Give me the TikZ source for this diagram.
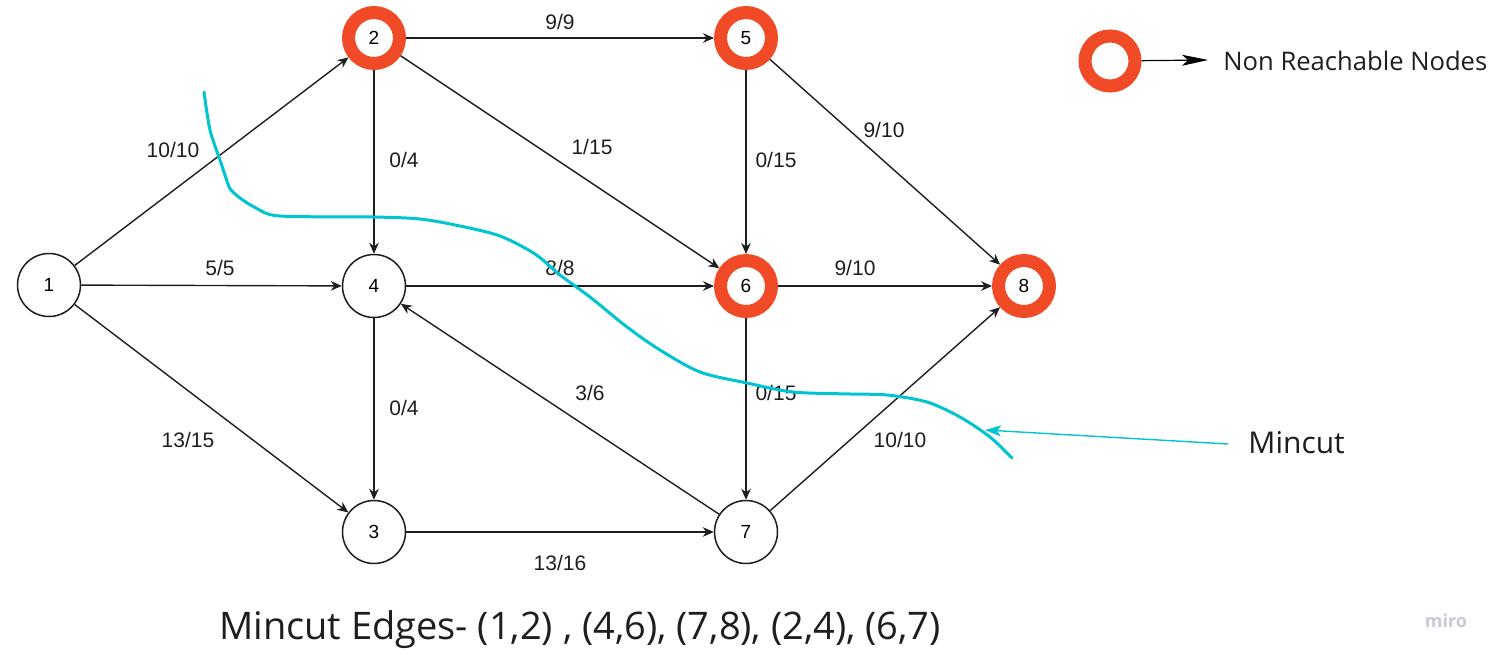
\documentclass[tikz,border=0pt]{standalone}
\usepackage{fontspec}
\setmainfont{Open Sans}
\newfontfamily\labelfont{Liberation Sans}
\usetikzlibrary{arrows.meta}
\definecolor{ringred}{RGB}{240,74,38}
\definecolor{cutcyan}{RGB}{0,196,208}
\definecolor{edgegray}{RGB}{30,30,30}
\definecolor{wmark}{RGB}{200,200,214}
\begin{document}
\begin{tikzpicture}[x=0.5pt,y=-0.5pt,
  plainnode/.style={circle,draw=edgegray,line width=0.75pt,fill=white,minimum size=31.5pt,inner sep=0pt,font=\labelfont\fontsize{9.5}{10}\selectfont},
  ringnode/.style={circle,draw=ringred,line width=6.5pt,fill=white,minimum size=25.5pt,inner sep=0pt,font=\labelfont\fontsize{9.5}{10}\selectfont},
  flow/.style={draw=edgegray,line width=0.7pt,-{Stealth[length=5.5pt,width=4.8pt]}},
  flowlabel/.style={font=\labelfont\fontsize{10.5}{12}\selectfont,text=edgegray,inner sep=0pt},
  cutline/.style={draw=cutcyan,line width=1.5pt,line cap=round}]
\useasboundingbox (0,0) rectangle (1505,664);

% graph nodes
\node[plainnode] (n1) at (49,285) {1};
\node[ringnode]  (n2) at (374,38) {2};
\node[ringnode]  (n5) at (746,38) {5};
\node[plainnode] (n4) at (374,286) {4};
\node[ringnode]  (n6) at (746,286) {6};
\node[ringnode]  (n8) at (1024,286) {8};
\node[plainnode] (n3) at (374,532) {3};
\node[plainnode] (n7) at (746,532) {7};

% flow edges
\draw[flow] (n1) -- (n2);
\draw[flow] (n1) -- (n4);
\draw[flow] (n1) -- (n3);
\draw[flow] (n2) -- (n5);
\draw[flow] (n2) -- (n4);
\draw[flow] (n2) -- (n6);
\draw[flow] (n5) -- (n6);
\draw[flow] (n5) -- (n8);
\draw[flow] (n4) -- (n6);
\draw[flow] (n6) -- (n8);
\draw[flow] (n4) -- (n3);
\draw[flow] (n7) -- (n4);
\draw[flow] (n6) -- (n7);
\draw[flow] (n7) -- (n8);
\draw[flow] (n3) -- (n7);

% flow / capacity labels
\node[flowlabel] (c12) at (173,150) {10/10};
\node[flowlabel] (c14) at (220,268) {5/5};
\node[flowlabel] (c13) at (188,440) {13/15};
\node[flowlabel] (c25) at (560,22) {9/9};
\node[flowlabel] (c24) at (404,160) {0/4};
\node[flowlabel] (c26) at (592,147) {1/15};
\node[flowlabel] (c56) at (776,160) {0/15};
\node[flowlabel] (c58) at (884,130) {9/10};
\node[flowlabel] (c46) at (560,268) {8/8};
\node[flowlabel] (c68) at (855,268) {9/10};
\node[flowlabel] (c43) at (404,408) {0/4};
\node[flowlabel] (c74) at (590,393) {3/6};
\node[flowlabel] (c67) at (776,393) {0/15};
\node[flowlabel] (c78) at (900,440) {10/10};
\node[flowlabel] (c37) at (560,563) {13/16};

% hand-drawn cut line
\draw[cutline] plot[smooth,tension=0.5] coordinates {
  (204,92) (210,130) (220,160) (228,184) (231,190) (240,198) (256,208) (280,216)
  (373,217) (420,219) (460,226) (500,236) (535,254) (560,275) (590,297)
  (627,327) (660,350) (700,372) (747,383) (793,392) (850,394) (887,395)
  (927,402) (960,417) (990,437) (1012,458)};

% cut label with pointer
\coordinate (cutTip) at (985,430);
\node[anchor=west,inner sep=0pt,font=\fontsize{15}{18}\selectfont,text=edgegray] (cutText) at (1248,443) {Mincut};
\draw[draw=cutcyan,line width=0.7pt,-{Stealth[length=8pt,width=5.5pt,inset=2pt]}] (1228,444) -- (cutTip);

% legend
\node[ringnode,minimum size=25pt] (legRing) at (1110,61) {};
\node[anchor=west,inner sep=0pt,font=\fontsize{12.8}{15}\selectfont,text=edgegray] (legText) at (1223,61) {Non Reachable Nodes};
\coordinate (legTip) at (1208,60);
\draw[draw=black,line width=0.6pt,-{Stealth[length=13pt,width=5.5pt,inset=3pt]}] (legRing) -- (legTip);

% summary line
\node[inner sep=0pt,font=\fontsize{19}{22}\selectfont,text=edgegray] (summary) at (580,630) {Mincut Edges- (1,2) , (4,6), (7,8), (2,4), (6,7)};

% watermark
\node[inner sep=0pt,font=\bfseries\fontsize{9}{10}\selectfont,text=wmark] (miro) at (1446,621) {miro};
\end{tikzpicture}
\end{document}
